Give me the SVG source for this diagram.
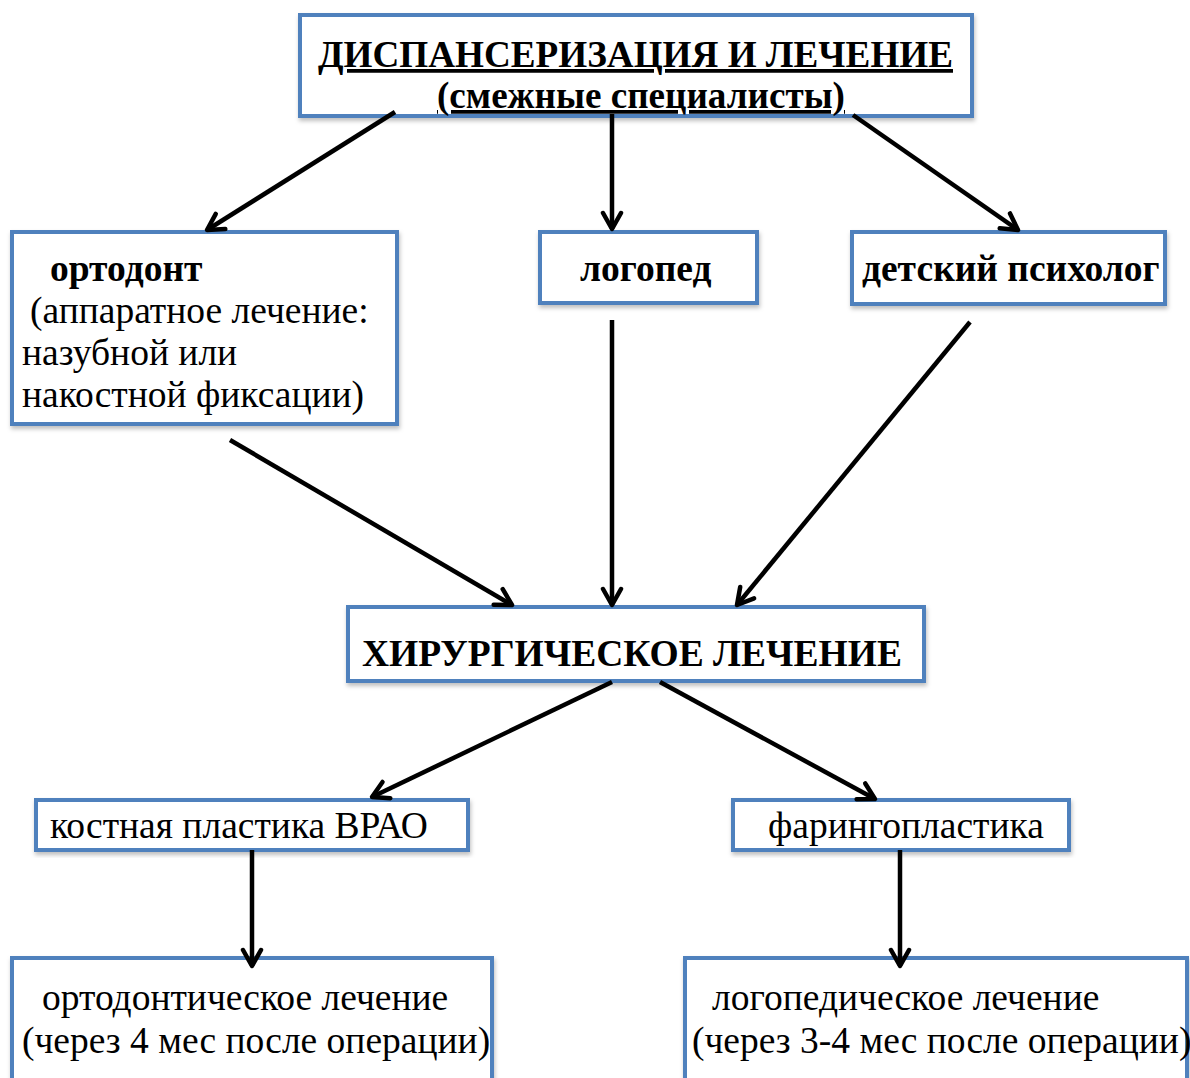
<svg xmlns="http://www.w3.org/2000/svg" width="1190" height="1078" viewBox="0 0 1190 1078">
  <style>
    .box { fill: #ffffff; stroke: #4f81bd; stroke-width: 4; filter: url(#shadow); }
    .t { font-family: "Liberation Serif", "Times New Roman", serif; font-size: 37.5px; fill: #000; }
    .b { font-weight: bold; }
    .u { text-decoration: underline; }
    .conn line { stroke: #000; stroke-width: 4.5; marker-end: url(#arr); }
  </style>
  <defs>
    <filter id="shadow" x="-5%" y="-5%" width="110%" height="120%">
      <feDropShadow dx="1" dy="3" stdDeviation="2" flood-color="#000" flood-opacity="0.25"/>
    </filter>
    <marker id="arr" viewBox="0 0 24 24" refX="20" refY="12" markerWidth="24" markerHeight="24" markerUnits="userSpaceOnUse" orient="auto">
      <path d="M4,3 L20,12 L4,21" fill="none" stroke="#000" stroke-width="4.5" stroke-linecap="round" stroke-linejoin="round"/>
    </marker>
  </defs>

  <rect width="1190" height="1078" fill="#ffffff"/>

  <g id="top">
    <rect class="box" x="300" y="15" width="672" height="101"/>
    <text class="t b u" x="318" y="67" font-size="37" textLength="635" lengthAdjust="spacingAndGlyphs">ДИСПАНСЕРИЗАЦИЯ И ЛЕЧЕНИЕ</text>
    <text class="t b u" x="437" y="108" textLength="408" lengthAdjust="spacingAndGlyphs">(смежные специалисты)</text>
  </g>

  <g id="orthodontist">
    <rect class="box" x="12" y="232" width="385" height="192"/>
    <text class="t b" x="50" y="281">ортодонт</text>
    <text class="t" x="30" y="323">(аппаратное лечение:</text>
    <text class="t" x="22" y="365">назубной или</text>
    <text class="t" x="22" y="407">накостной фиксации)</text>
  </g>

  <g id="speech">
    <rect class="box" x="540" y="232" width="217" height="71"/>
    <text class="t b" x="580" y="281">логопед</text>
  </g>

  <g id="psychologist">
    <rect class="box" x="852" y="232" width="313" height="72"/>
    <text class="t b" x="862" y="281">детский психолог</text>
  </g>

  <g id="surgery">
    <rect class="box" x="348" y="607" width="576" height="74"/>
    <text class="t b" x="362" y="666">ХИРУРГИЧЕСКОЕ ЛЕЧЕНИЕ</text>
  </g>

  <g id="bone">
    <rect class="box" x="36" y="800" width="432" height="50"/>
    <text class="t" x="50" y="838">костная пластика ВРАО</text>
  </g>

  <g id="pharyngo">
    <rect class="box" x="733" y="800" width="336" height="50"/>
    <text class="t" x="768" y="838">фарингопластика</text>
  </g>

  <g id="ortho-after">
    <rect class="box" x="12" y="958" width="480" height="130"/>
    <text class="t" x="42" y="1010">ортодонтическое лечение</text>
    <text class="t" x="22" y="1053">(через 4 мес после операции)</text>
  </g>

  <g id="speech-after">
    <rect class="box" x="685" y="958" width="502" height="130"/>
    <text class="t" x="712" y="1010">логопедическое лечение</text>
    <text class="t" x="692" y="1053">(через 3-4 мес после операции)</text>
  </g>

  <!-- connectors drawn over the box borders -->
  <g id="conn" class="conn">
    <line x1="395" y1="112" x2="207" y2="230"/>
    <line x1="612" y1="114" x2="612" y2="229"/>
    <line x1="853" y1="115" x2="1018" y2="230"/>
    <line x1="230" y1="440" x2="512" y2="605"/>
    <line x1="612" y1="320" x2="612" y2="605"/>
    <line x1="970" y1="322" x2="737" y2="605"/>
    <line x1="612" y1="682" x2="372" y2="797"/>
    <line x1="660" y1="682" x2="875" y2="799"/>
    <line x1="252" y1="850" x2="252" y2="966"/>
    <line x1="900" y1="850" x2="900" y2="966"/>
  </g>
</svg>
